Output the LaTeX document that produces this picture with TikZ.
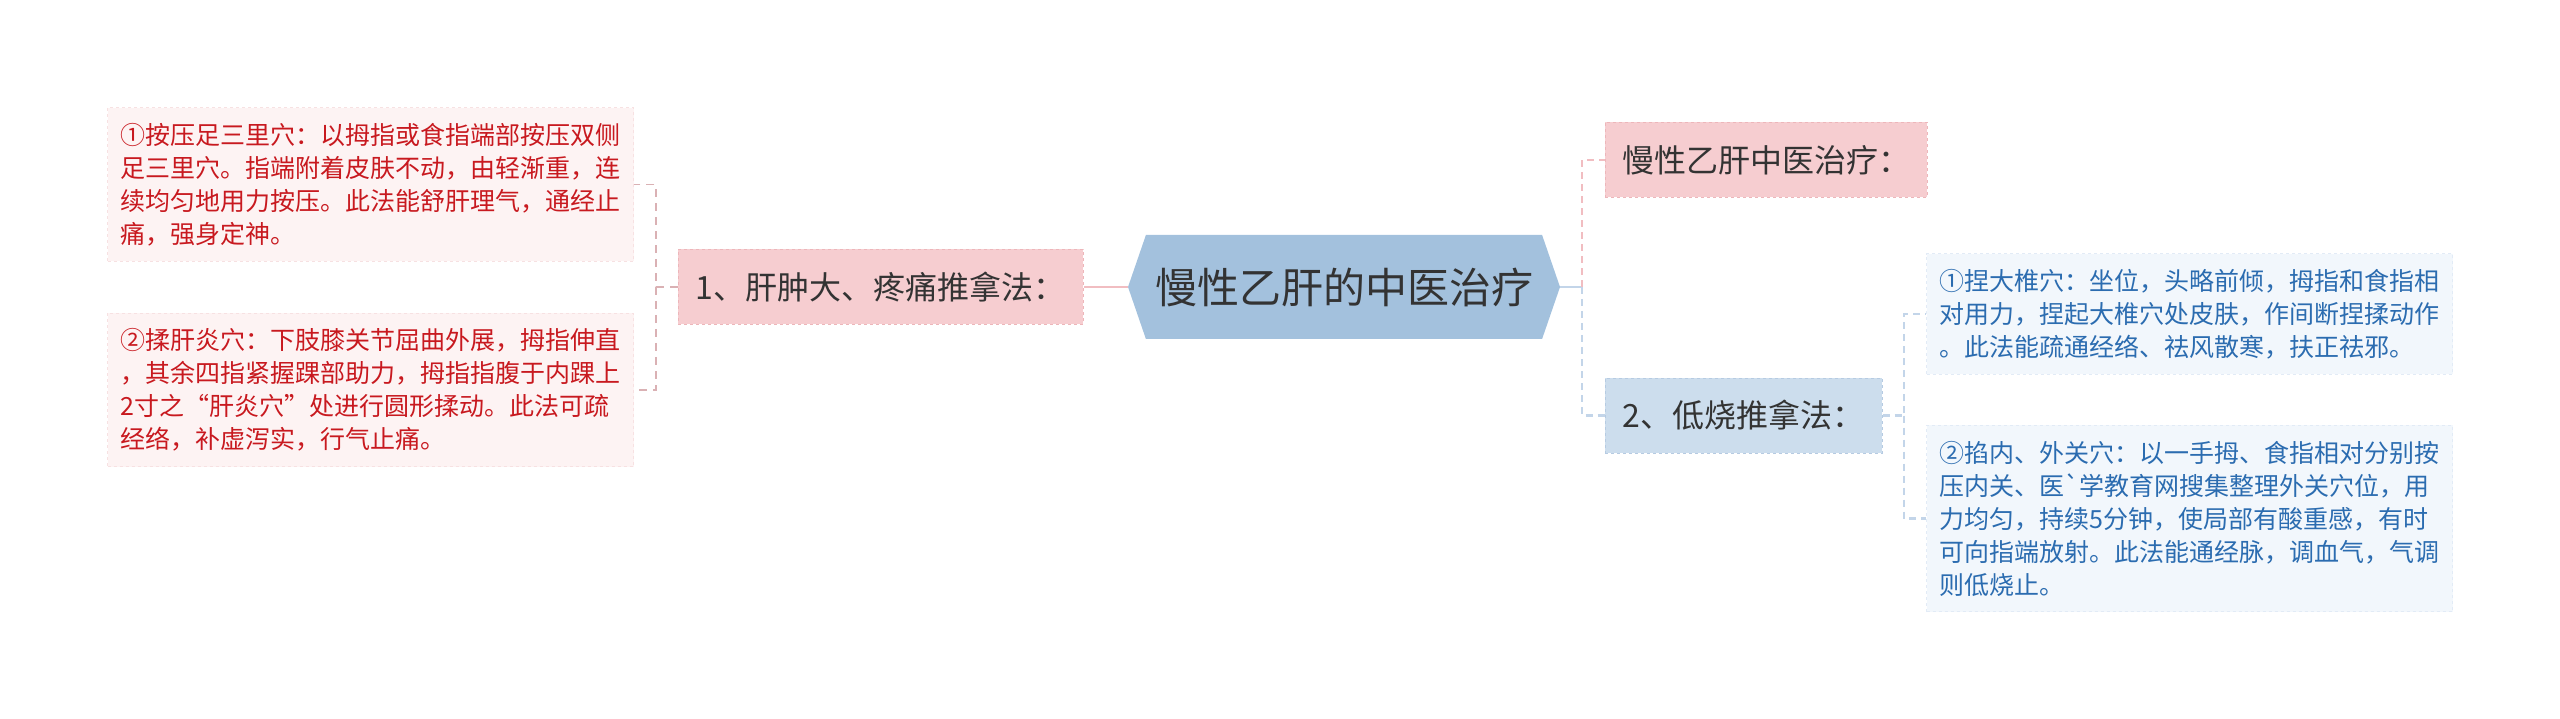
\documentclass[tikz,border=0pt]{standalone}
\usepackage{fontspec}
\newfontfamily\cjk{Noto Sans CJK SC}
\usepackage{tikz}
\usetikzlibrary{positioning,shapes.symbols}

\definecolor{rootblue}{HTML}{A3C1DD}
\definecolor{darktext}{HTML}{333333}
\definecolor{pinkfill}{HTML}{F6CDD0}
\definecolor{pinkedge}{HTML}{EDB6BA}
\definecolor{pinkleaf}{HTML}{FDF3F3}
\definecolor{pinkleafedge}{HTML}{F7E1E2}
\definecolor{redtext}{HTML}{C8191F}
\definecolor{bluefill}{HTML}{CCDDED}
\definecolor{blueedge}{HTML}{B6CBE2}
\definecolor{blueleaf}{HTML}{F2F7FC}
\definecolor{blueleafedge}{HTML}{E2EBF6}
\definecolor{bluetext}{HTML}{2B6CB0}
\definecolor{pinkwire}{HTML}{F1BDC1}
\definecolor{bluewire}{HTML}{C3D5E9}

\begin{document}
\begin{tikzpicture}[x=1pt,y=-1pt,
        rootnode/.style={signal, signal to=west and east, signal pointer angle=142,
            fill=rootblue, text=darktext, minimum width=432pt, minimum height=104pt,
            inner sep=0pt, font=\cjk\fontsize{42}{50}\selectfont},
        pinkbranch/.style={rectangle, fill=pinkfill, draw=pinkedge, dashed, line width=1pt,
            text=darktext, minimum height=75pt, inner xsep=16pt, font=\cjk\fontsize{32}{38}\selectfont},
        bluebranch/.style={pinkbranch, fill=bluefill, draw=blueedge},
        redleaf/.style={rectangle, fill=pinkleaf, draw=pinkleafedge, dashed, line width=1pt,
            text=redtext, text width=500pt, align=left, inner xsep=13pt, inner ysep=15.5pt,
            font=\cjk\fontsize{25}{33}\selectfont},
        blueleaf/.style={redleaf, fill=blueleaf, draw=blueleafedge, text=bluetext},
        pinkline/.style={draw=pinkwire, line width=2.5pt},
        blueline/.style={draw=bluewire, line width=2.5pt},
        pinkdash/.style={draw=pinkwire, line width=2.5pt, dash pattern=on 7pt off 5pt},
        bluedash/.style={draw=bluewire, line width=2.5pt, dash pattern=on 7pt off 5pt},
        leftdash/.style={draw=pinkwire!80!gray, line width=1.5pt, dash pattern=on 8pt off 6pt}
        ]
        \useasboundingbox (0,0) rectangle (2560,719);
        \node[rootnode]                 (root) at (1344,287)        {慢性乙肝的中医治疗};
        \node[pinkbranch, minimum width=405pt] (lb) [left=44pt of root] {1、肝肿大、疼痛推拿法：};
        \node[pinkbranch, minimum width=322pt] (rb1) at (1766,160)  {慢性乙肝中医治疗：};
        \node[bluebranch, minimum width=277pt] (rb2) at (1743.5,415.5) {2、低烧推拿法：};
        \node[redleaf]                  (ll1) at (370.5,184.5)
            {①按压足三里穴：以拇指或食指端部按压双侧\\足三里穴。指端附着皮肤不动，由轻渐重，连\\续均匀地用力按压。此法能舒肝理气，通经止\\痛，强身定神。};
        \node[redleaf]                  (ll2) at (370.5,390)
            {②揉肝炎穴：下肢膝关节屈曲外展，拇指伸直\\，其余四指紧握踝部助力，拇指指腹于内踝上\\2寸之“肝炎穴”处进行圆形揉动。此法可疏\\经络，补虚泻实，行气止痛。};
        \node[blueleaf]                 (rl1) at (2189.5,314)
            {①捏大椎穴：坐位，头略前倾，拇指和食指相\\对用力，捏起大椎穴处皮肤，作间断捏揉动作\\。此法能疏通经络、祛风散寒，扶正祛邪。};
        \node[blueleaf]                 (rl2) at (2189.5,518.5)
            {②掐内、外关穴：以一手拇、食指相对分别按\\压内关、医`学教育网搜集整理外关穴位，用\\力均匀，持续5分钟，使局部有酸重感，有时\\可向指端放射。此法能通经脉，调血气，气调\\则低烧止。};
        \coordinate (lj) at (656,287);
        \coordinate (rj) at (1582,287);
        \coordinate (rk) at (1904,415.5);
        \draw[pinkline] (root.west) -- (lb.east);
        \draw[leftdash] (lb.west) -- (lj) |- (ll1.east);
        \draw[leftdash] (lj) |- (ll2.east);
        \draw[blueline] (root.east) -- (rj);
        \draw[pinkdash] (rj) |- (rb1.west);
        \draw[bluedash] (rj) |- (rb2.west);
        \draw[bluedash] (rb2.east) -- (rk) |- (rl1.west);
        \draw[bluedash] (rk) |- (rl2.west);
    \end{tikzpicture}
\end{document}
